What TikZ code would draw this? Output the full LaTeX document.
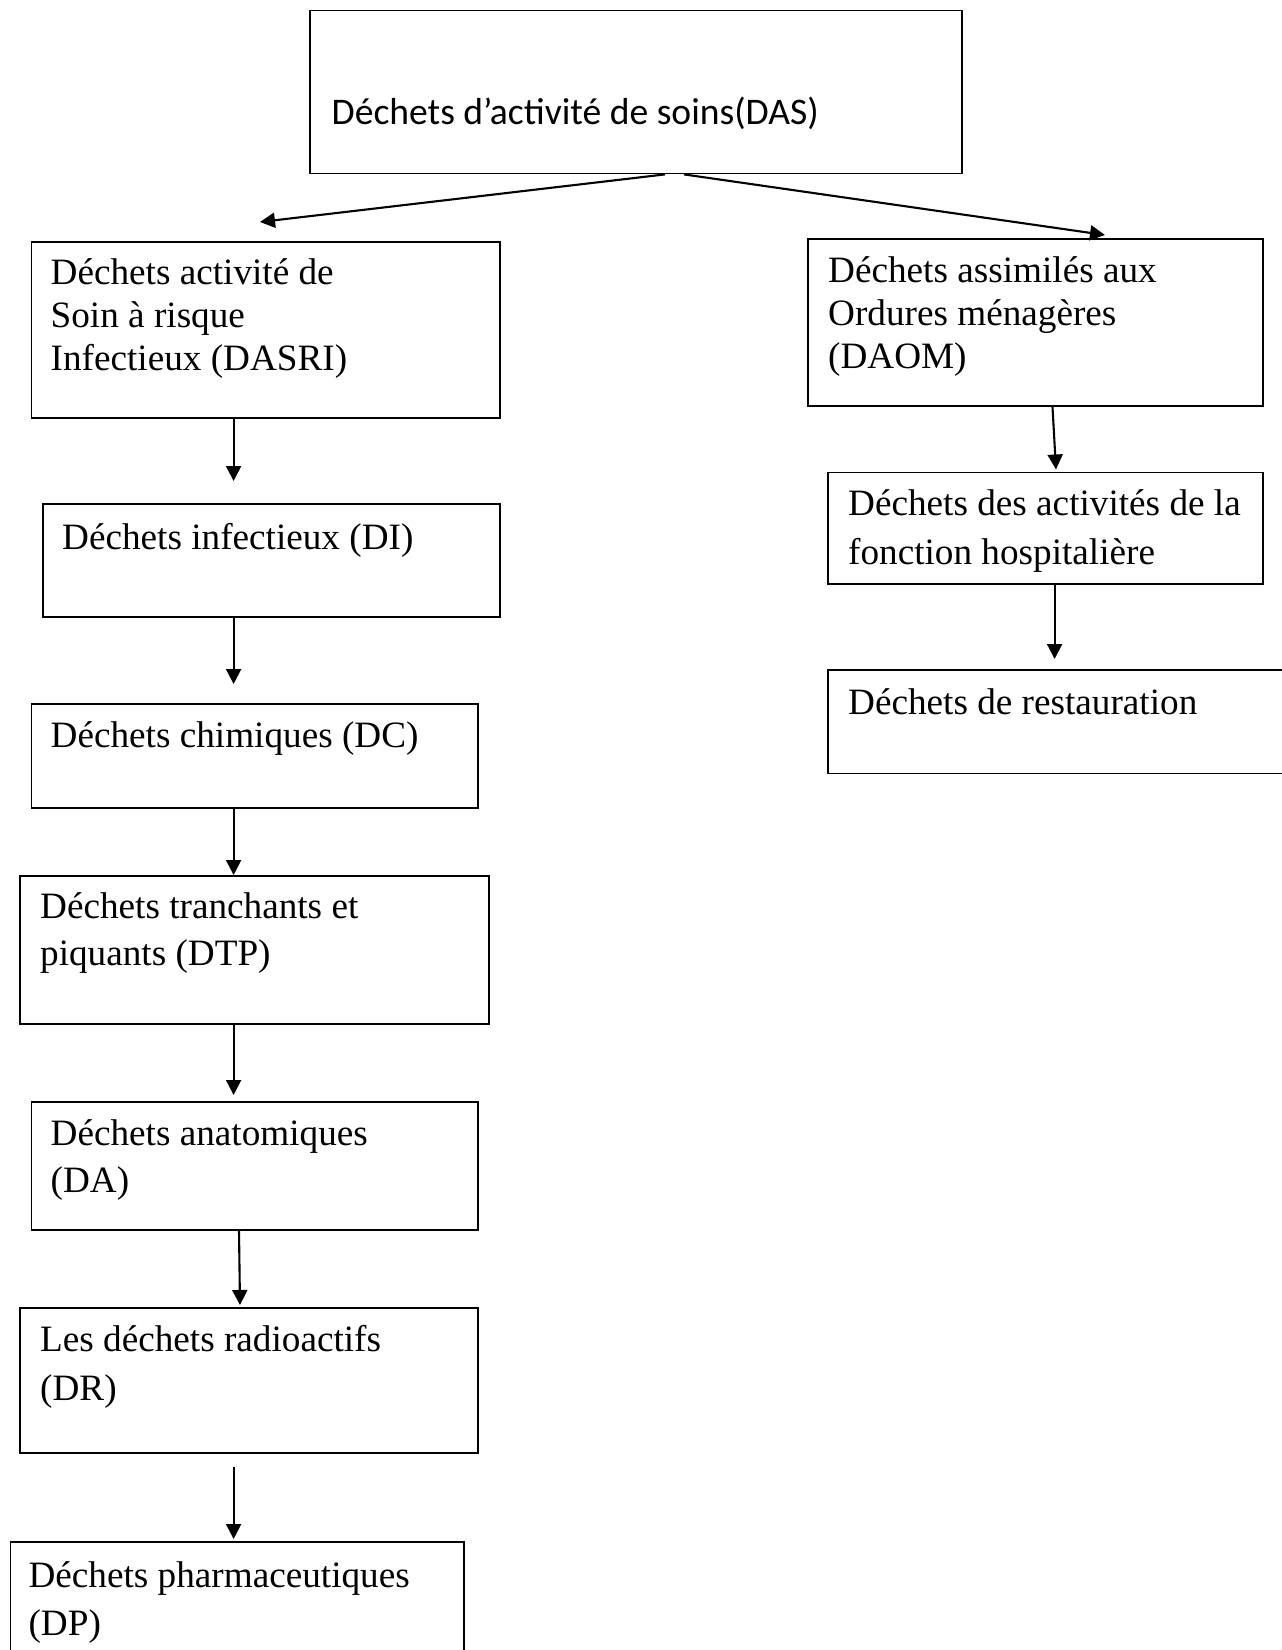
\documentclass[tikz,border=0pt]{standalone}
\usepackage{fontspec}
\setmainfont{Liberation Serif}
\newfontfamily\calfont{Carlito}
\usetikzlibrary{arrows.meta,calc}
\newcommand{\txtlines}[2]{\parbox[t]{14cm}{\fontsize{37.2}{#1}\selectfont\raggedright #2}}
\begin{document}
\begin{tikzpicture}[x=1pt,y=-1pt,
  box/.style={draw, line width=1.9pt, inner sep=0pt, anchor=north west},
  txt/.style={anchor=base west, inner sep=0pt, font=\fontsize{37.2}{43}\selectfont},
  arr/.style={line width=2.1pt, -{Triangle[length=15pt,width=15pt]}}]
\useasboundingbox (0,0) rectangle (1282,1650);
\clip (0,0) rectangle (1282,1650);
% boxes
\node[box, minimum width=652pt, minimum height=163pt] (das) at (309,9.5) {};
\node[box, minimum width=468.5pt, minimum height=176pt] (dasri) at (30.5,241) {};
\node[box, minimum width=457pt, minimum height=113pt] (di) at (42,503) {};
\node[box, minimum width=446.5pt, minimum height=104pt] (dc) at (30.5,703) {};
\node[box, minimum width=469pt, minimum height=148pt] (dtp) at (19,875) {};
\node[box, minimum width=446.5pt, minimum height=128pt] (da) at (30.5,1101) {};
\node[box, minimum width=458pt, minimum height=145pt] (dr) at (19,1307) {};
\node[box, minimum width=453.5pt, minimum height=150pt] (dp) at (9.5,1541) {};
\node[box, minimum width=455pt, minimum height=167pt] (daom) at (807,238) {};
\node[box, minimum width=435pt, minimum height=111.5pt] (hosp) at (827,471.5) {};
\node[box, minimum width=470pt, minimum height=103.5pt] (rest) at (827,669) {};
% texts
\node[txt, font=\calfont\fontsize{37.6}{43}\selectfont] (tdas) at (331.5,124) {Déchets d’activité de soins(DAS)};
\node[txt] (tdasri) at (50.5,284) {\txtlines{43}{Déchets activité de\\Soin à risque\\Infectieux (DASRI)}};
\node[txt] (tdi) at (62,549.4) {Déchets infectieux (DI)};
\node[txt] (tdc) at (50.5,747) {Déchets chimiques (DC)};
\node[txt] (tdtp) at (40,918) {\txtlines{47}{Déchets tranchants et\\piquants (DTP)}};
\node[txt] (tda) at (50.5,1145) {\txtlines{47.5}{Déchets anatomiques\\(DA)}};
\node[txt] (tdr) at (40,1351) {\txtlines{49}{Les déchets radioactifs\\(DR)}};
\node[txt] (tdp) at (28.4,1587) {\txtlines{48.6}{Déchets pharmaceutiques\\(DP)}};
\node[txt] (tdaom) at (828,282) {\txtlines{43}{Déchets assimilés aux\\Ordures ménagères\\(DAOM)}};
\node[txt] (thosp) at (848,515.7) {\txtlines{48.3}{Déchets des activités de la\\fonction hospitalière}};
\node[txt] (trest) at (848,714.6) {Déchets de restauration};
% connector helpers
\coordinate (cl) at (260,222);
\coordinate (cr) at (1105,235);
\coordinate (ax) at (233.6,0);
% connectors
\draw[arr] (das.south -| 665,0) -- (cl);
\draw[arr] (das.south -| 684,0) -- (cr);
\draw[arr] (dasri.south -| ax) -- ($(di.north -| ax)+(0,-22)$);
\draw[arr] (di.south -| ax) -- ($(dc.north -| ax)+(0,-19)$);
\draw[arr] (dc.south -| ax) -- (dtp.north -| ax);
\draw[arr] (dtp.south -| ax) -- ($(da.north -| ax)+(0,-6)$);
\draw[arr] (da.south -| 239,0) -- ($(dr.north -| 240,0)+(0,-2)$);
\draw[arr] ($(dr.south -| ax)+(0,13)$) -- ($(dp.north -| ax)+(0,-2)$);
\draw[arr] (daom.south -| 1052.5,0) -- ($(hosp.north -| 1056,0)+(0,-2)$);
\draw[arr] (hosp.south -| 1054.6,0) -- ($(rest.north -| 1054.6,0)+(0,-10)$);
\end{tikzpicture}
\end{document}
